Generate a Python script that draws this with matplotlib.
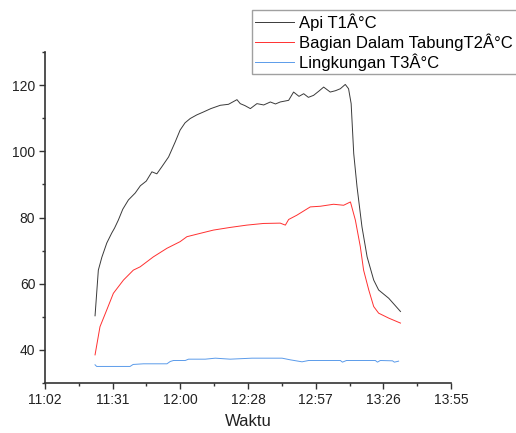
import matplotlib
matplotlib.use("Agg")
import matplotlib.pyplot as plt
from matplotlib.ticker import MultipleLocator, FuncFormatter

plt.rcParams['font.family'] = ['Liberation Sans', 'DejaVu Sans']

# ---- data ----
api_time = ["11:23:42", "11:25:06", "11:26:36", "11:28:42", "11:30:48", "11:32:00",
            "11:33:36", "11:35:30", "11:37:54", "11:40:48", "11:43:00", "11:45:30",
            "11:47:54", "11:50:00", "11:52:06", "11:55:00", "11:57:48", "11:59:54",
            "12:02:00", "12:04:12", "12:07:00", "12:09:54", "12:13:00", "12:17:00",
            "12:20:30", "12:24:06", "12:25:30", "12:27:30", "12:29:48", "12:32:36",
            "12:35:30", "12:38:18", "12:40:30", "12:42:30", "12:46:06", "12:48:12",
            "12:50:30", "12:52:30", "12:54:30", "12:56:42", "12:59:00", "13:01:00",
            "13:03:48", "13:06:00", "13:08:06", "13:10:12", "13:11:36", "13:12:42",
            "13:13:48", "13:15:12", "13:17:18", "13:19:30", "13:22:18", "13:24:24",
            "13:28:42", "13:33:42"]
api_temp = [50.3, 64.1, 68.0, 72.3, 75.3, 76.8,
            79.2, 82.5, 85.3, 87.4, 89.6, 91.0,
            93.8, 93.2, 95.3, 98.3, 102.8, 106.4,
            108.6, 109.9, 111.0, 111.9, 112.9, 113.9,
            114.2, 115.6, 114.4, 113.8, 112.9, 114.4,
            114.0, 114.9, 114.3, 114.9, 115.4, 117.9,
            116.6, 117.4, 116.3, 116.9, 118.2, 119.4,
            117.9, 118.3, 118.9, 120.2, 118.9, 114.4,
            99.3, 89.3, 77.2, 68.1, 61.1, 58.1,
            55.6, 51.6]

tabung_time = ["11:23:42", "11:25:48", "11:28:42", "11:31:30", "11:35:48", "11:40:00",
               "11:42:54", "11:48:30", "11:54:18", "11:59:54", "12:02:48", "12:08:24",
               "12:14:06", "12:21:12", "12:28:18", "12:35:24", "12:42:30", "12:44:42",
               "12:46:06", "12:49:36", "12:55:18", "12:59:36", "13:05:12", "13:09:30",
               "13:12:24", "13:14:30", "13:16:36", "13:18:00", "13:20:12", "13:22:18",
               "13:24:24", "13:28:42", "13:33:42"]
tabung_temp = [38.5, 47.0, 52.1, 57.1, 61.1, 64.1,
               65.1, 68.1, 70.7, 72.7, 74.2, 75.2,
               76.2, 77.0, 77.7, 78.2, 78.3, 77.7,
               79.4, 80.7, 83.2, 83.4, 84.0, 83.7,
               84.7, 79.2, 71.2, 64.1, 58.1, 53.1,
               51.1, 49.6, 48.1]

ling_time = ["11:23:42", "11:24:24", "11:38:36", "11:39:54", "11:44:18", "11:54:18",
             "11:55:42", "11:57:06", "12:02:06", "12:03:30", "12:10:36", "12:14:54",
             "12:21:12", "12:30:30", "12:43:18", "12:46:48", "12:51:48", "12:54:36",
             "13:08:06", "13:09:00", "13:10:42", "13:23:00", "13:23:54", "13:25:06",
             "13:30:18", "13:31:06", "13:32:54"]
ling_temp = [35.5, 35.0, 35.0, 35.6, 35.8, 35.8,
             36.5, 36.8, 36.8, 37.2, 37.2, 37.5,
             37.2, 37.5, 37.5, 37.0, 36.4, 36.8,
             36.8, 36.3, 36.8, 36.8, 36.3, 36.8,
             36.7, 36.3, 36.6]

labels = ["Api T1Â°C", "Bagian Dalam TabungT2Â°C", "Lingkungan T3Â°C"]
colors = ["#3a3a3a", "#ff3030", "#5b9bea"]


def to_day(s):
    h, m, sec = (int(v) for v in s.split(":"))
    return (h * 3600 + m * 60 + sec) / 86400.0


fig = plt.figure(figsize=(5.16, 4.33), dpi=100)
ax = fig.add_axes([45 / 516, 50 / 433, 406 / 516, 331 / 433])

series = [(api_time, api_temp), (tabung_time, tabung_temp), (ling_time, ling_temp)]
handles = []
for (t, v), lab, c in zip(series, labels, colors):
    h, = ax.plot([to_day(s) for s in t], v, color=c, lw=0.7, label=lab)
    handles.append(h)

ax.set_xlim(0.46, 0.58)
ax.set_ylim(30, 130)
ax.xaxis.set_major_locator(MultipleLocator(0.02))
ax.xaxis.set_minor_locator(MultipleLocator(0.01))
ax.yaxis.set_major_locator(MultipleLocator(20))
ax.yaxis.set_minor_locator(MultipleLocator(10))


def fmt(x, pos):
    mins = int(round(x * 1440, 6))
    return f"{mins // 60:02d}:{mins % 60:02d}"


ax.xaxis.set_major_formatter(FuncFormatter(fmt))
ax.yaxis.set_major_formatter(FuncFormatter(lambda y, p: "" if y in (30, 130) else f"{int(y)}"))

for sp in ["top", "right"]:
    ax.spines[sp].set_visible(False)
for sp in ["left", "bottom"]:
    ax.spines[sp].set_linewidth(1.2)
    ax.spines[sp].set_color("#333333")

ax.tick_params(which="major", direction="out", length=4.5, width=1.0, color="#333333",
               labelsize=10, pad=2.5, labelcolor="#222222")
ax.tick_params(which="minor", direction="out", length=2.5, width=1.0, color="#333333")

ax.set_xlabel("Waktu", fontsize=12, labelpad=5, color="#222222")

leg = fig.legend(handles=handles, loc="upper left", mode="expand",
                 bbox_to_anchor=(252 / 516, 1 - 76 / 433, 290 / 516, 66 / 433),
                 fontsize=12, frameon=True, fancybox=False, handlelength=2.3,
                 handletextpad=0.3, borderpad=0.2, labelspacing=0.15, borderaxespad=0)
leg.get_frame().set_edgecolor("#888888")
leg.get_frame().set_linewidth(1.0)

fig.savefig("out.png", dpi=100)
